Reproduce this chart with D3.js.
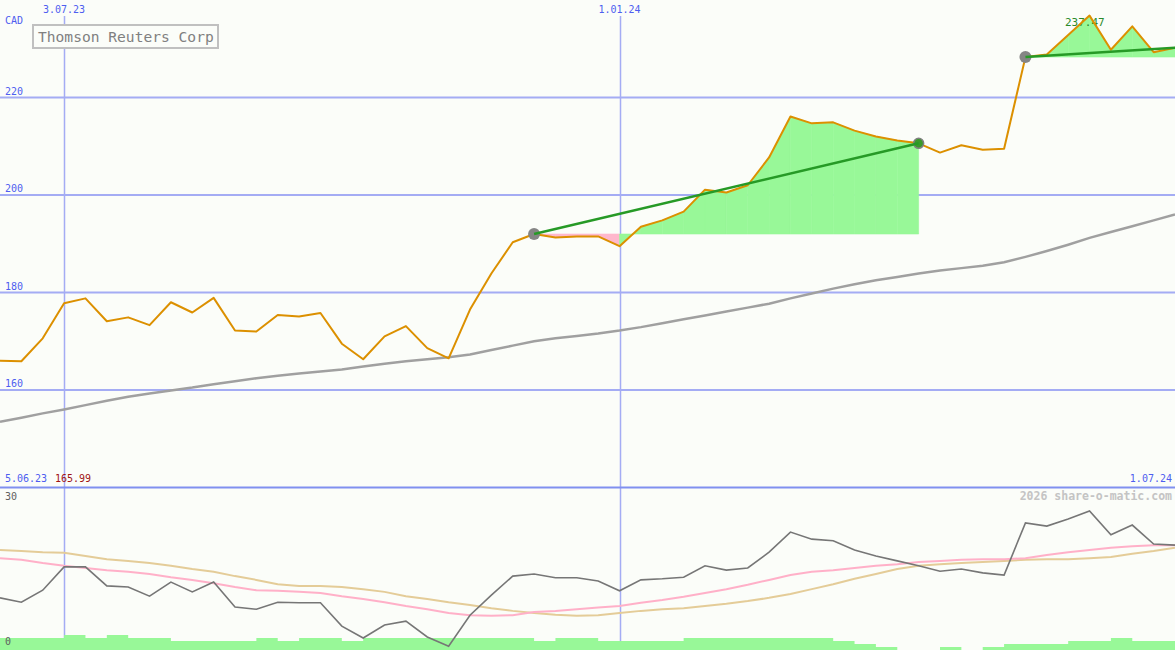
<!DOCTYPE html>
<html>
<head>
<meta charset="utf-8">
<script src="https://cdn.jsdelivr.net/npm/d3@7"></script>
<style>
html,body{margin:0;padding:0;background:#fbfdf9;}
svg{display:block;}
text{font-family:"DejaVu Sans Mono","Liberation Mono",monospace;}
</style>
</head>
<body>
<svg id="chart" width="1175" height="650"></svg>
<script>
// ---- data ----
const dates = ["2023-06-12","2023-06-19","2023-06-26","2023-07-03","2023-07-10","2023-07-17","2023-07-24","2023-07-31",
"2023-08-07","2023-08-14","2023-08-21","2023-08-28","2023-09-04","2023-09-11","2023-09-18","2023-09-25",
"2023-10-02","2023-10-09","2023-10-16","2023-10-23","2023-10-30","2023-11-06","2023-11-13","2023-11-20","2023-11-27",
"2023-12-04","2023-12-11","2023-12-18","2023-12-25","2024-01-01","2024-01-08","2024-01-15","2024-01-22","2024-01-29",
"2024-02-05","2024-02-12","2024-02-19","2024-02-26","2024-03-04","2024-03-11","2024-03-18","2024-03-25",
"2024-04-01","2024-04-08","2024-04-15","2024-04-22","2024-04-29","2024-05-06","2024-05-13","2024-05-20","2024-05-27",
"2024-06-03","2024-06-10","2024-06-17","2024-06-24","2024-07-01"];

const price = [166.0,165.9,170.6,177.8,178.8,174.1,174.9,173.3,178.0,175.9,178.9,172.2,172.0,175.4,175.1,175.8,
169.5,166.3,171.0,173.1,168.6,166.5,176.5,183.9,190.3,192.0,191.3,191.5,191.5,189.5,193.5,194.8,196.6,201.1,
200.5,202.0,207.7,216.1,214.7,214.9,213.2,212.0,211.2,210.6,208.7,210.2,209.3,209.5,228.3,228.8,232.8,236.8,
229.8,234.6,229.3,230.2];

const ma200 = [153.5,154.3,155.2,156.0,156.9,157.8,158.6,159.3,159.9,160.5,161.2,161.8,162.4,162.9,163.4,163.8,
164.2,164.8,165.4,165.9,166.3,166.7,167.3,168.2,169.1,170.0,170.6,171.1,171.6,172.2,172.9,173.7,174.5,175.3,
176.1,176.9,177.7,178.8,179.8,180.8,181.7,182.5,183.2,183.9,184.5,185.0,185.5,186.2,187.3,188.5,189.8,191.2,
192.4,193.6,194.8,196.0];

const osc = [9.6,8.8,11.0,15.3,15.3,11.8,11.6,9.9,12.5,10.7,12.5,7.9,7.5,8.8,8.7,8.7,4.4,2.2,4.6,5.3,2.4,0.7,
6.4,10.1,13.6,14.0,13.3,13.3,12.7,10.9,12.9,13.1,13.4,15.5,14.7,15.1,18.0,21.7,20.4,20.1,18.4,17.3,16.4,15.5,
14.5,14.9,14.2,13.8,23.4,22.8,24.1,25.6,21.2,23.0,19.5,19.3];

const oscFast = [16.9,16.6,16.0,15.5,15.1,14.7,14.4,14.0,13.4,12.9,12.3,11.6,11.0,10.9,10.7,10.5,9.9,9.4,8.8,8.1,
7.5,6.8,6.4,6.3,6.4,7.0,7.2,7.5,7.8,8.1,8.7,9.2,9.8,10.5,11.2,12.0,12.9,13.8,14.4,14.7,15.1,15.5,15.8,16.2,
16.4,16.6,16.7,16.7,16.9,17.5,18.0,18.4,18.8,19.1,19.3,19.3];

const oscSlow = [18.4,18.2,18.0,17.9,17.3,16.7,16.4,16.0,15.5,14.9,14.4,13.6,12.9,12.1,11.8,11.8,11.6,11.2,10.7,
9.9,9.4,8.8,8.3,7.7,7.2,6.8,6.5,6.3,6.4,6.8,7.2,7.5,7.7,8.1,8.5,9.0,9.6,10.3,11.2,12.1,13.1,14.0,14.9,15.5,
15.8,16.0,16.2,16.4,16.6,16.7,16.7,16.9,17.1,17.7,18.2,18.8];

const volume = [4,4,4,5,4,5,4,4,3,3,3,3,4,3,4,4,3,4,4,4,4,4,4,4,4,3,4,4,3,3,3,3,4,4,4,4,4,4,4,3,2,1,0,0,1,0,1,
2,2,2,3,3,4,3,3,3];

const priceTicks = [220,200,180,160];
const dateTicks = ["2023-07-03","2024-01-01"];
const dateTickLabels = ["3.07.23","1.01.24"];
const trendStarts = ["2023-12-04","2024-05-13"];
const trendEnds = ["2024-04-08","2024-07-01"];

const title = "Thomson Reuters Corp";
const currency = "CAD";
const startLabel = "5.06.23";
const endLabel = "1.07.24";
const minLabel = "165.99";
const maxLabel = "237.47";
const oscTop = "30", oscBottom = "0";
const credit = "2026 share-o-matic.com";

// ---- scales ----
const parse = d3.timeParse("%Y-%m-%d");
const D = dates.map(parse);
const W = 1175, H = 650, SPLIT = 487.5;
const x = d3.scaleTime().domain([D[0], D[D.length-1]]).range([0, W]);
const yP = d3.scaleLinear().domain([140, 240]).range([SPLIT, 0]);
const yO = d3.scaleLinear().domain([0, 30]).range([650, 487]);
const yV = d3.scaleLinear().domain([0, 5]).range([650, 635]);

const svg = d3.select("#chart");
svg.append("rect").attr("width", W).attr("height", H).attr("fill", "#fbfdf9");

const gridCol = "#a4acf4";
// horizontal grid
svg.append("g").selectAll("line").data(priceTicks).join("line")
  .attr("x1", 0).attr("x2", W).attr("y1", d => yP(d)).attr("y2", d => yP(d))
  .attr("stroke", gridCol).attr("stroke-width", 2);
// vertical grid
svg.append("g").selectAll("line").data(dateTicks).join("line")
  .attr("x1", d => Math.round(x(parse(d))) + 0.5).attr("x2", d => Math.round(x(parse(d))) + 0.5)
  .attr("y1", 16).attr("y2", H)
  .attr("stroke", gridCol).attr("stroke-width", 1.5);

// volume bars (step)
const vArea = d3.area().curve(d3.curveStepAfter)
  .x((d, i) => x(D[i])).y0(H).y1(d => yV(d));
svg.append("path").datum(volume).attr("d", vArea).attr("fill", "#98f898");

// separator
svg.append("line").attr("x1", 0).attr("x2", W).attr("y1", SPLIT).attr("y2", SPLIT)
  .attr("stroke", "#8090f0").attr("stroke-width", 2);

// 200 MA gray line
const lineP = d3.line().x((d, i) => x(D[i])).y(d => yP(d));
svg.append("path").datum(ma200).attr("d", lineP).attr("fill", "none")
  .attr("stroke", "#a0a0a0").attr("stroke-width", 2.5);

// trend fills
const idx = s => dates.indexOf(s);
trendStarts.forEach((s, k) => {
  const i0 = idx(s), i1 = idx(trendEnds[k]);
  const base = price[i0];
  const segs = d3.range(i0, i1);
  svg.append("g").selectAll("path").data(segs).join("path")
    .attr("d", i => {
      const pts = [[x(D[i]), yP(base)], [x(D[i]), yP(price[i])], [x(D[i+1]), yP(price[i+1])], [x(D[i+1]), yP(base)]];
      return "M" + pts.map(p => p.join(",")).join("L") + "Z";
    })
    .attr("fill", i => price[i+1] >= base ? "#98f898" : "#ffb8cc")
    .attr("stroke", i => price[i+1] >= base ? "#98f898" : "#ffb8cc").attr("stroke-width", 0.6);
});

// max label (under the price line)
svg.append("text").attr("x", 1065).attr("y", 26).attr("font-size", 11).attr("fill", "#2a8a2a").text(maxLabel);

// price line
svg.append("path").datum(price).attr("d", lineP).attr("fill", "none")
  .attr("stroke", "#dc9000").attr("stroke-width", 2).attr("stroke-linejoin", "round");

// circles and trend lines
trendStarts.forEach((s, k) => {
  const i0 = idx(s), i1 = idx(trendEnds[k]);
  svg.append("circle").attr("cx", x(D[i0])).attr("cy", yP(price[i0])).attr("r", 6).attr("fill", "#858585");
  if (k === 0) {
    svg.append("circle").attr("cx", x(D[i1])).attr("cy", yP(price[i1])).attr("r", 5)
      .attr("fill", "#3a9a2a").attr("stroke", "#808080").attr("stroke-width", 1.5);
  }
  svg.append("line").attr("x1", x(D[i0])).attr("y1", yP(price[i0]))
    .attr("x2", x(D[i1])).attr("y2", yP(price[i1]))
    .attr("stroke", "#269a26").attr("stroke-width", 2.5);
});

// oscillator lines
const lineO = d3.line().x((d, i) => x(D[i])).y(d => yO(d));
svg.append("path").datum(oscSlow).attr("d", lineO).attr("fill", "none").attr("stroke", "#e4cc98").attr("stroke-width", 2);
svg.append("path").datum(oscFast).attr("d", lineO).attr("fill", "none").attr("stroke", "#ffb0c8").attr("stroke-width", 2);
svg.append("path").datum(osc).attr("d", lineO).attr("fill", "none").attr("stroke", "#767676").attr("stroke-width", 1.6);

// ---- texts ----
const blue = "#4e5ef0";
svg.append("g").selectAll("text").data(priceTicks).join("text")
  .attr("x", 5).attr("y", d => yP(d) - 3).attr("font-size", 10).attr("fill", blue).text(d => d);
svg.append("text").attr("x", 5).attr("y", 24).attr("font-size", 10).attr("fill", blue).text(currency);
svg.append("g").selectAll("text").data(dateTicks).join("text")
  .attr("x", d => x(parse(d))).attr("y", 13).attr("text-anchor", "middle")
  .attr("font-size", 10).attr("fill", blue).text((d, i) => dateTickLabels[i]);
svg.append("text").attr("x", 5).attr("y", 482).attr("font-size", 10).attr("fill", blue).text(startLabel);
svg.append("text").attr("x", 55).attr("y", 482).attr("font-size", 10).attr("fill", "#a01414").text(minLabel);
svg.append("text").attr("x", 1172).attr("y", 482).attr("text-anchor", "end").attr("font-size", 10).attr("fill", blue).text(endLabel);
svg.append("text").attr("x", 5).attr("y", 500).attr("font-size", 10).attr("fill", "#606060").text(oscTop);
svg.append("text").attr("x", 5).attr("y", 645).attr("font-size", 10).attr("fill", "#606060").text(oscBottom);
svg.append("text").attr("x", 1172).attr("y", 500).attr("text-anchor", "end").attr("font-size", 11.5)
  .attr("font-weight", "bold").attr("fill", "#c4c4c4").text(credit);

// title box
svg.append("rect").attr("x", 33).attr("y", 25).attr("width", 185).attr("height", 23)
  .attr("fill", "#fbfdf9").attr("stroke", "#c0c0c0").attr("stroke-width", 2);
svg.append("text").attr("x", 38).attr("y", 41.5).attr("font-size", 14.6).attr("fill", "#808080").text(title);
</script>
</body>
</html>
